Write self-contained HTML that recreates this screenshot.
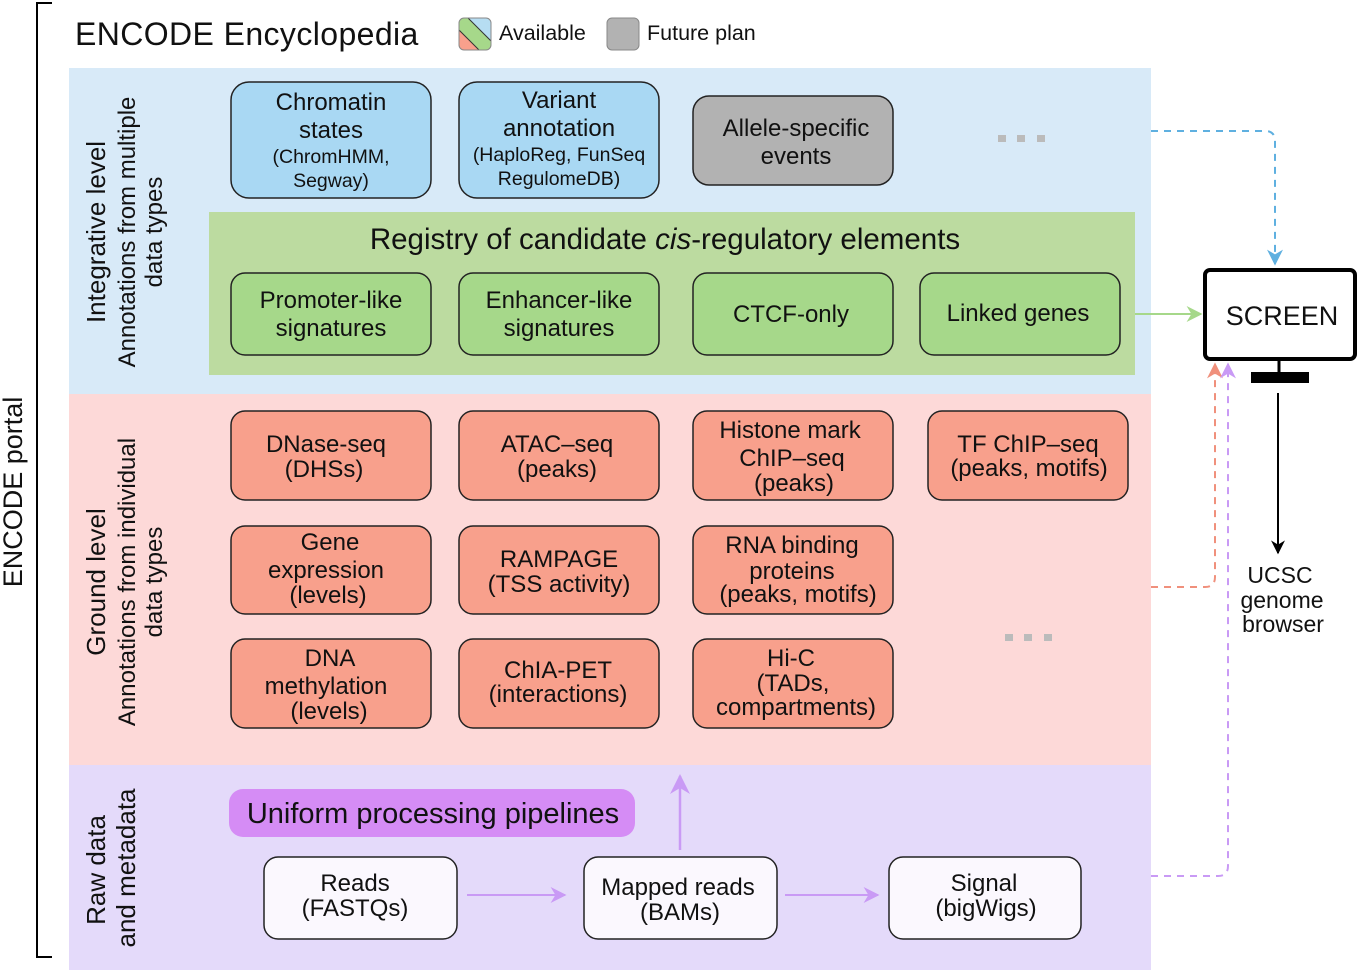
<!DOCTYPE html>
<html><head><meta charset="utf-8"><style>
html,body{margin:0;padding:0;background:#fff}
svg{display:block;font-family:"Liberation Sans",sans-serif}
text{fill:#111}
</style></head><body>
<svg width="1358" height="970" viewBox="0 0 1358 970">
<defs>
<marker id="ab" viewBox="0 0 10 10" refX="9" refY="5" markerWidth="8" markerHeight="8" orient="auto"><path d="M0,0 L10,5 L0,10 L3,5z" fill="#5fb0e0"/></marker>
<marker id="ar" viewBox="0 0 10 10" refX="9" refY="5" markerWidth="8" markerHeight="8" orient="auto"><path d="M0,0 L10,5 L0,10 L3,5z" fill="#f0907c"/></marker>
<marker id="ap" viewBox="0 0 10 10" refX="9" refY="5" markerWidth="8" markerHeight="8" orient="auto"><path d="M0,0 L10,5 L0,10 L3,5z" fill="#c99af5"/></marker>
<marker id="ag" viewBox="0 0 10 10" refX="9" refY="5" markerWidth="8" markerHeight="8" orient="auto"><path d="M0,0 L10,5 L0,10 L3,5z" fill="#a6d88a"/></marker>
<marker id="ak" viewBox="0 0 10 10" refX="9" refY="5" markerWidth="7" markerHeight="7" orient="auto"><path d="M0,0 L10,5 L0,10 L3,5z" fill="#000"/></marker>
<clipPath id="lc"><rect x="459" y="18" width="32" height="32" rx="5"/></clipPath>
</defs>

<path d="M52,3 H37 V957 H52" fill="none" stroke="#000" stroke-width="2"/>
<text transform="translate(22,492) rotate(-90)" text-anchor="middle" font-size="27">ENCODE portal</text>
<text x="75" y="45" font-size="32" letter-spacing="0.4">ENCODE Encyclopedia</text>

<g>
<g clip-path="url(#lc)"><rect x="459" y="18" width="32" height="32" fill="#a6d88a"/><polygon points="468,18 491,18 491,41" fill="#b6ddf2"/><polygon points="459,30 459,50 479,50" fill="#f8a08c"/><line x1="468" y1="18" x2="491" y2="41" stroke="#333"/><line x1="459" y1="30" x2="479" y2="50" stroke="#333"/></g>
<rect x="459" y="18" width="32" height="32" rx="5" fill="none" stroke="#888"/>
<text x="499" y="40" font-size="21.5">Available</text></g>
<g>
<rect x="607" y="18" width="32" height="32" rx="5" fill="#b2b2b2" stroke="#888"/>
<text x="647" y="40" font-size="21.5">Future plan</text></g>

<rect x="69" y="68" width="1082" height="326" fill="#d8eaf8"/>
<rect x="69" y="394" width="1082" height="371" fill="#fdd9d8"/>
<rect x="69" y="765" width="1082" height="205" fill="#e4dafa"/>
<rect x="209" y="212" width="926" height="163" fill="#bcdba0"/>

<g font-size="26" text-anchor="middle">
<text transform="translate(105,232) rotate(-90)">Integrative level</text>
<text transform="translate(135,232) rotate(-90)" font-size="24">Annotations from multiple</text>
<text transform="translate(162,232) rotate(-90)" font-size="24">data types</text></g>
<g font-size="26" text-anchor="middle">
<text transform="translate(105,582) rotate(-90)">Ground level</text>
<text transform="translate(135,582) rotate(-90)" font-size="24">Annotations from individual</text>
<text transform="translate(162,582) rotate(-90)" font-size="24">data types</text></g>
<g font-size="26" text-anchor="middle">
<text transform="translate(105,870) rotate(-90)">Raw data</text>
<text transform="translate(135,868) rotate(-90)">and metadata</text></g>

<g stroke="#222" stroke-width="1.5" font-size="24" text-anchor="middle">
<g><rect x="231" y="82" width="200" height="116" rx="18" fill="#a9d8f3"/>
<text x="331" y="110" stroke="none">Chromatin</text><text x="331" y="138" stroke="none">states</text>
<text x="331" y="163" stroke="none" font-size="19.5">(ChromHMM,</text><text x="331" y="187" stroke="none" font-size="19.5">Segway)</text></g>
<g><rect x="459" y="82" width="200" height="116" rx="18" fill="#a9d8f3"/>
<text x="559" y="108" stroke="none">Variant</text><text x="559" y="136" stroke="none">annotation</text>
<text x="559" y="161" stroke="none" font-size="19.5">(HaploReg, FunSeq</text><text x="559" y="185" stroke="none" font-size="19.5">RegulomeDB)</text></g>
<g><rect x="693" y="96" width="200" height="89" rx="16" fill="#b2b2b2"/>
<text x="796" y="136" stroke="none">Allele-specific</text><text x="796" y="164" stroke="none">events</text></g>

<text x="665" y="249" stroke="none" font-size="29.5">Registry of candidate <tspan font-style="italic">cis</tspan>-regulatory elements</text>

<g><rect x="231" y="273" width="200" height="82" rx="14" fill="#a6d88a"/>
<text x="331" y="308" stroke="none">Promoter-like</text><text x="331" y="336" stroke="none">signatures</text></g>
<g><rect x="459" y="273" width="200" height="82" rx="14" fill="#a6d88a"/>
<text x="559" y="308" stroke="none">Enhancer-like</text><text x="559" y="336" stroke="none">signatures</text></g>
<g><rect x="693" y="273" width="200" height="82" rx="14" fill="#a6d88a"/>
<text x="791" y="322" stroke="none">CTCF-only</text></g>
<g><rect x="920" y="273" width="200" height="82" rx="14" fill="#a6d88a"/>
<text x="1018" y="321" stroke="none">Linked genes</text></g>

<g><rect x="231" y="411" width="200" height="89" rx="14" fill="#f8a08c"/>
<text x="326" y="452" stroke="none">DNase-seq</text><text x="324" y="477" stroke="none">(DHSs)</text></g>
<g><rect x="459" y="411" width="200" height="89" rx="14" fill="#f8a08c"/>
<text x="557" y="452" stroke="none">ATAC–seq</text><text x="557" y="477" stroke="none">(peaks)</text></g>
<g><rect x="693" y="411" width="200" height="89" rx="14" fill="#f8a08c"/>
<text x="790" y="438" stroke="none">Histone mark</text><text x="792" y="466" stroke="none">ChIP–seq</text><text x="794" y="491" stroke="none">(peaks)</text></g>
<g><rect x="928" y="411" width="200" height="89" rx="14" fill="#f8a08c"/>
<text x="1028" y="452" stroke="none">TF ChIP–seq</text><text x="1029" y="476" stroke="none">(peaks, motifs)</text></g>

<g><rect x="231" y="526" width="200" height="88" rx="14" fill="#f8a08c"/>
<text x="330" y="550" stroke="none">Gene</text><text x="326" y="578" stroke="none">expression</text><text x="328" y="603" stroke="none">(levels)</text></g>
<g><rect x="459" y="526" width="200" height="88" rx="14" fill="#f8a08c"/>
<text x="559" y="567" stroke="none">RAMPAGE</text><text x="559" y="592" stroke="none">(TSS activity)</text></g>
<g><rect x="693" y="526" width="200" height="88" rx="14" fill="#f8a08c"/>
<text x="792" y="553" stroke="none">RNA binding</text><text x="792" y="579" stroke="none">proteins</text><text x="798" y="602" stroke="none">(peaks, motifs)</text></g>

<g><rect x="231" y="639" width="200" height="89" rx="14" fill="#f8a08c"/>
<text x="330" y="666" stroke="none">DNA</text><text x="326" y="694" stroke="none">methylation</text><text x="329" y="719" stroke="none">(levels)</text></g>
<g><rect x="459" y="639" width="200" height="89" rx="14" fill="#f8a08c"/>
<text x="558" y="678" stroke="none">ChIA-PET</text><text x="558" y="702" stroke="none">(interactions)</text></g>
<g><rect x="693" y="639" width="200" height="89" rx="14" fill="#f8a08c"/>
<text x="791" y="666" stroke="none">Hi-C</text><text x="793" y="691" stroke="none">(TADs,</text><text x="796" y="715" stroke="none">compartments)</text></g>

<g><rect x="229" y="789" width="406" height="48" rx="14" fill="#d58cf5" stroke="none"/>
<text x="433" y="823" stroke="none" font-size="29">Uniform processing pipelines</text></g>
<g><rect x="264" y="857" width="193" height="82" rx="14" fill="#fbf8fe"/>
<text x="355" y="891" stroke="none">Reads</text><text x="355" y="916" stroke="none">(FASTQs)</text></g>
<g><rect x="584" y="857" width="193" height="82" rx="14" fill="#fbf8fe"/>
<text x="678" y="895" stroke="none">Mapped reads</text><text x="680" y="920" stroke="none">(BAMs)</text></g>
<g><rect x="889" y="857" width="192" height="82" rx="14" fill="#fbf8fe"/>
<text x="984" y="891" stroke="none">Signal</text><text x="986" y="916" stroke="none">(bigWigs)</text></g>
</g>

<g fill="#bbb"><rect x="998" y="135" width="8" height="7"/><rect x="1017" y="135" width="8" height="7"/><rect x="1037" y="135" width="8" height="7"/></g>
<g fill="#bbb"><rect x="1005" y="634" width="8" height="7"/><rect x="1024" y="634" width="8" height="7"/><rect x="1044" y="634" width="8" height="7"/></g>

<line x1="467" y1="895" x2="565" y2="895" stroke="#c99af5" stroke-width="2" marker-end="url(#ap)"/>
<line x1="785" y1="895" x2="878" y2="895" stroke="#c99af5" stroke-width="2" marker-end="url(#ap)"/>
<line x1="680" y1="850" x2="680" y2="776" stroke="#c99af5" stroke-width="2.5" marker-end="url(#ap)"/>

<path d="M1151,131 H1265 Q1275,131 1275,141 V264" fill="none" stroke="#5fb0e0" stroke-width="2" stroke-dasharray="7,6" marker-end="url(#ab)"/>
<line x1="1135" y1="314" x2="1201" y2="314" stroke="#a6d88a" stroke-width="2" marker-end="url(#ag)"/>
<path d="M1151,587 H1205 Q1215,587 1215,577 V364" fill="none" stroke="#f0907c" stroke-width="2" stroke-dasharray="7,6" marker-end="url(#ar)"/>
<path d="M1151,876 H1218 Q1228,876 1228,866 V364" fill="none" stroke="#c99af5" stroke-width="2" stroke-dasharray="7,6" marker-end="url(#ap)"/>

<g>
<rect x="1205" y="270" width="150" height="89" rx="5" fill="#fff" stroke="#000" stroke-width="4"/>
<text x="1282" y="325" font-size="27" text-anchor="middle">SCREEN</text>
<line x1="1279" y1="359" x2="1279" y2="372" stroke="#000" stroke-width="3"/>
<rect x="1251" y="372" width="58" height="11" fill="#000"/></g>
<line x1="1278" y1="393" x2="1278" y2="553" stroke="#000" stroke-width="2" marker-end="url(#ak)"/>
<g font-size="23" text-anchor="middle">
<text x="1280" y="583">UCSC</text><text x="1282" y="608">genome</text><text x="1283" y="632">browser</text></g>
</svg>
</body></html>
